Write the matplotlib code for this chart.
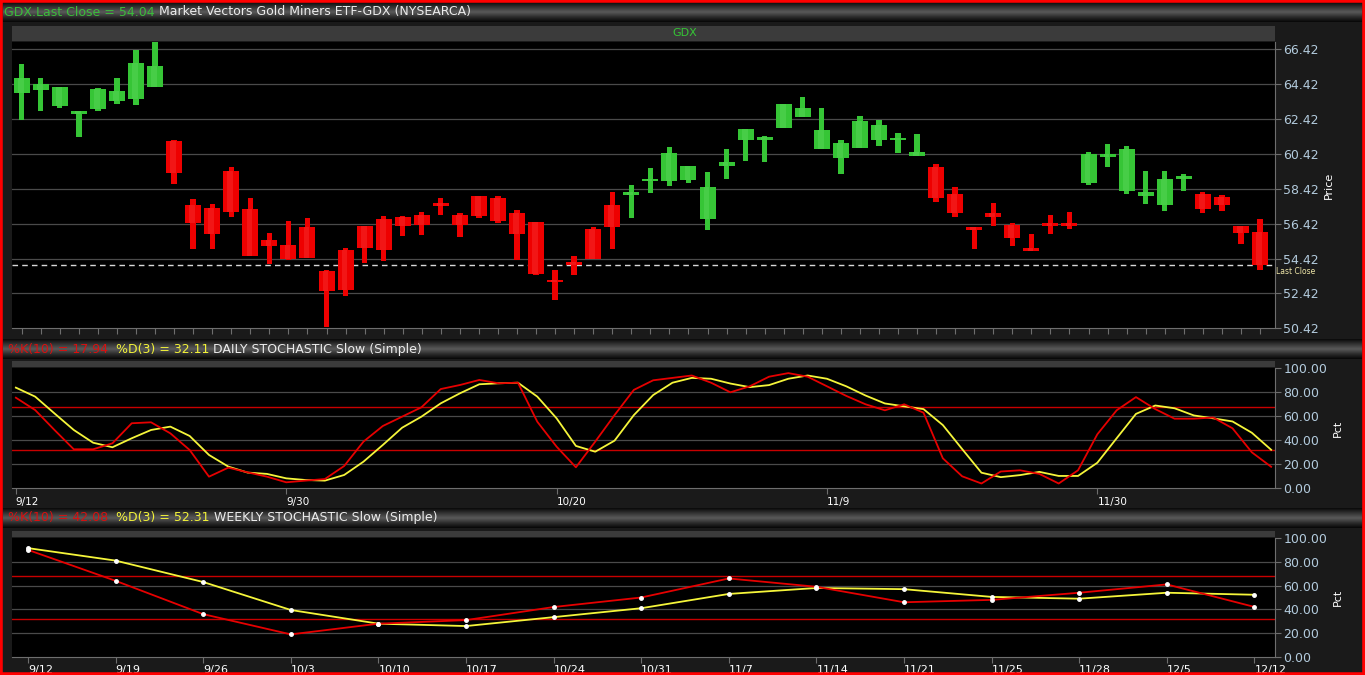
import numpy as np
import matplotlib
matplotlib.use("Agg")
import matplotlib.pyplot as plt
from matplotlib.colors import LinearSegmentedColormap
from matplotlib.patches import Rectangle
import matplotlib.transforms as mtransforms

# GDX daily candles, 9/12 - 12/12
opens = [63.94, 64.06, 63.18, 62.72, 63.01, 63.47, 63.56, 64.28, 61.14, 57.52,
         57.33, 59.47, 57.28, 55.47, 55.20, 56.23, 53.71, 54.91, 56.28, 56.67,
         56.82, 56.89, 57.62, 56.91, 58.00, 57.91, 57.05, 56.53, 53.18, 54.19,
         56.09, 57.48, 58.06, 58.85, 58.85, 58.91, 56.71, 59.75, 61.20, 61.22,
         61.91, 62.53, 60.71, 60.19, 60.76, 61.24, 61.20, 60.28, 59.67, 58.15,
         56.20, 57.05, 56.32, 55.05, 56.48, 56.48, 58.76, 60.25, 58.28, 58.00,
         57.52, 58.98, 58.15, 57.94, 56.28, 55.96]
closes = [64.76, 64.42, 64.28, 62.85, 64.13, 64.04, 65.62, 65.47, 59.33, 56.48,
          55.81, 57.08, 54.57, 55.14, 54.38, 54.48, 52.57, 52.63, 55.05, 54.91,
          56.28, 56.32, 57.43, 56.32, 56.85, 56.57, 55.85, 53.56, 53.05, 54.04,
          54.42, 56.22, 58.23, 59.00, 60.48, 59.75, 58.53, 59.94, 61.85, 61.35,
          63.29, 63.05, 61.77, 61.05, 62.32, 62.09, 61.36, 60.55, 57.91, 57.05,
          56.08, 56.80, 55.58, 54.88, 56.28, 56.28, 60.42, 60.40, 60.71, 58.23,
          58.99, 59.10, 57.28, 57.48, 55.91, 54.04]
highs = [65.58, 64.76, 64.28, 62.89, 64.19, 64.76, 66.38, 66.89, 61.24, 57.81,
         57.56, 59.68, 57.91, 55.87, 56.57, 56.72, 53.77, 55.01, 56.28, 56.85,
         56.85, 57.11, 57.87, 57.01, 58.00, 58.00, 57.18, 56.53, 53.77, 54.57,
         56.23, 58.23, 58.65, 59.62, 60.80, 59.75, 59.37, 60.72, 61.85, 61.47,
         63.29, 63.71, 63.05, 61.20, 62.57, 62.38, 61.62, 61.54, 59.86, 58.53,
         56.20, 57.62, 56.48, 55.85, 56.91, 57.11, 60.51, 61.01, 60.85, 59.47,
         59.47, 59.29, 58.25, 58.04, 56.28, 56.67]
lows = [62.38, 62.91, 63.05, 61.37, 62.89, 63.28, 63.24, 64.28, 58.67, 54.95,
        54.99, 56.82, 54.57, 54.10, 54.32, 54.48, 50.48, 52.25, 54.15, 54.28,
        55.71, 55.77, 56.91, 55.68, 56.76, 56.48, 54.32, 53.47, 52.05, 53.47,
        54.42, 54.99, 56.72, 58.19, 58.59, 58.76, 56.05, 58.99, 60.04, 59.96,
        61.91, 62.53, 60.71, 59.29, 60.76, 60.85, 60.48, 60.28, 57.66, 56.82,
        54.99, 56.28, 55.14, 54.85, 55.85, 56.09, 58.61, 59.66, 58.15, 57.56,
        57.14, 58.32, 57.01, 57.14, 55.24, 53.77]
last_close = 54.04
price_ticks = [50.42, 52.42, 54.42, 56.42, 58.42, 60.42, 62.42, 64.42, 66.42]

# daily stochastic slow
daily_k = [75.5, 65.2, 48.6, 32.5, 32.5, 37.5, 54.2, 55.0, 45.8, 31.9,
           9.7, 17.2, 13.3, 9.7, 5.0, 6.4, 7.7, 18.6, 38.9, 51.9,
           59.7, 67.5, 82.7, 86.1, 90.3, 87.5, 88.0, 55.5, 34.7, 17.5,
           38.9, 61.0, 82.0, 90.0, 92.0, 94.0, 88.0, 80.0, 85.0, 93.0,
           96.0, 93.0, 85.0, 77.0, 70.0, 65.0, 70.0, 63.0, 25.0, 10.0,
           4.0, 14.0, 15.0, 12.0, 4.0, 15.0, 45.0, 65.0, 76.0, 66.0,
           58.0, 58.0, 59.0, 50.0, 30.0, 17.94]
daily_d = [83.9, 76.4, 62.4, 48.6, 38.0, 34.2, 41.7, 48.6, 51.4, 43.6,
           27.8, 18.1, 13.1, 12.0, 8.3, 6.9, 6.4, 11.1, 22.2, 36.1,
           50.5, 59.7, 70.8, 79.2, 86.7, 87.5, 88.0, 76.4, 58.3, 35.3,
           30.5, 39.7, 61.0, 77.7, 88.0, 92.0, 91.3, 87.3, 84.3, 86.0,
           91.3, 94.0, 91.3, 85.0, 77.3, 70.7, 68.3, 66.0, 52.7, 32.7,
           13.0, 9.3, 11.0, 13.7, 10.3, 10.3, 21.3, 41.7, 62.0, 69.0,
           66.7, 60.7, 58.3, 55.7, 46.3, 32.11]
daily_labels = ["9/12", "9/30", "10/20", "11/9", "11/30"]
daily_label_idx = [0, 14, 28, 42, 56]

# weekly stochastic slow
weekly_labels = ["9/12", "9/19", "9/26", "10/3", "10/10", "10/17", "10/24", "10/31",
                 "11/7", "11/14", "11/21", "11/25", "11/28", "12/5", "12/12"]
weekly_k = [90, 64, 36, 19, 28, 31, 42, 50, 66, 59, 46, 48, 54, 61, 42.08]
weekly_d = [91.5, 81, 63, 39.5, 28, 26, 33.5, 41, 53, 58, 57, 50.5, 49, 54, 52.31]

pct_ticks = [0, 20, 40, 60, 80, 100]
band_levels = [32, 68]

W, H = 1365, 675
GREEN = "#36c536"
RED = "#ee0000"
AXIS = "#6e6e6e"
TICKTXT = "#b3cbdd"

fig = plt.figure(figsize=(W / 100, H / 100), dpi=100, facecolor="#1a1a1a")


def add_box(x0, y0, x1, y1):
    return fig.add_axes([x0 / W, 1 - y1 / H, (x1 - x0) / W, (y1 - y0) / H])


bar_cmap = LinearSegmentedColormap.from_list(
    "bar", ["#0a0a0a", "#333333", "#5a5a5a", "#2c2c2c", "#070707"])


def header_bar(y0, y1, parts, x_px=6, size=9):
    ax = add_box(3, y0, 1362, y1)
    ax.imshow(np.linspace(0, 1, 60).reshape(-1, 1), aspect="auto", cmap=bar_cmap,
              extent=[0, 1, 0, 1])
    ax.set_axis_off()
    prev = None
    for txt, col in parts:
        if prev is None:
            prev = ax.text((x_px - 3) / 1359, 0.5, txt, transform=ax.transAxes,
                           va="center", ha="left", color=col, fontsize=size)
        else:
            prev = ax.annotate(txt, xy=(1, 0), xycoords=prev, va="bottom", ha="left",
                               color=col, fontsize=size)


def gray_band(y0, y1, label=None):
    b = add_box(12, y0, 1275, y1)
    b.set_facecolor("#3b3b3b")
    b.set_xticks([])
    b.set_yticks([])
    for s in b.spines.values():
        s.set_visible(False)
    if label:
        b.text(0.533, 0.5, label, transform=b.transAxes, ha="center", va="center",
               color=GREEN, fontsize=8)


def style_panel(ax):
    ax.set_facecolor("black")
    ax.spines["top"].set_visible(False)
    ax.spines["left"].set_visible(False)
    ax.spines["right"].set_color(AXIS)
    ax.spines["bottom"].set_color(AXIS)
    ax.yaxis.tick_right()
    ax.tick_params(axis="y", colors=AXIS, labelcolor=TICKTXT, labelsize=9, length=4, pad=2)
    ax.tick_params(axis="x", colors=AXIS, labelcolor="white", length=4, pad=2)


# header bars
header_bar(2, 22, [("GDX.Last Close = 54.04", "#3cbc3c"),
                   (" Market Vectors Gold Miners ETF-GDX (NYSEARCA)", "#ececec")], x_px=4)
header_bar(339, 359, [("%K(10) = 17.94", "#d81010"), ("  %D(3) = 32.11", "#f2f23a"),
                      (" DAILY STOCHASTIC Slow (Simple)", "#ececec")], x_px=8)
header_bar(508, 528, [("%K(10) = 42.08", "#d81010"), ("  %D(3) = 52.31", "#f2f23a"),
                      (" WEEKLY STOCHASTIC Slow (Simple)", "#ececec")], x_px=8)

# price panel
gray_band(26, 41, "GDX")
ax = add_box(12, 42, 1275, 328.3)
style_panel(ax)
o = np.array(opens)
c = np.array(closes)
hi = np.array(highs)
lo = np.array(lows)
x = np.arange(len(o))
cols = [GREEN if cc >= oo else RED for oo, cc in zip(o, c)]
body = np.maximum(np.abs(c - o), 0.16)
ax.bar(x, hi - lo, bottom=lo, width=0.28, color=cols, zorder=3)
ax.bar(x, body, bottom=np.minimum(o, c), width=0.84, color=cols, zorder=4)
# light highlight to mimic the shaded bodies
hl = ["#7be87b" if cl == GREEN else "#ff5a5a" for cl in cols]
ax.bar(x - 0.05, body, bottom=np.minimum(o, c), width=0.3, color=hl, alpha=0.25, zorder=5)
for p in price_ticks[1:]:
    ax.axhline(p, color="#4a4a4a", lw=0.9, zorder=1)
ax.axhline(last_close, color="#d8d8d8", lw=1, ls=(0, (4, 3)), zorder=2)
trans = mtransforms.blended_transform_factory(ax.transAxes, ax.transData)
ax.annotate("Last Close", xy=(1.001, last_close), xycoords=trans, xytext=(0, -1),
            textcoords="offset points", color="#efe6a8", fontsize=5.5,
            va="top", ha="left")
ax.set_xlim(-0.51, 65.79)
ax.set_ylim(50.42, 66.84)
ax.set_yticks(price_ticks)
ax.set_yticklabels([f"{p:.2f}" for p in price_ticks])
ax.set_xticks(x)
ax.set_xticklabels([])
fig.text(1329 / W, 1 - 185 / H, "Price", rotation=90, color="white", fontsize=8,
         ha="center", va="center")

# daily stochastic panel
gray_band(361, 367)
ax2 = add_box(12, 368.3, 1275, 488.3)
style_panel(ax2)
xd = np.arange(len(daily_k))
for v in pct_ticks[1:-1]:
    ax2.axhline(v, color="#4a4a4a", lw=0.9, zorder=1)
for v in band_levels:
    ax2.axhline(v, color="#c80000", lw=1, zorder=2)
ax2.plot(xd, daily_d, color="#f5f53a", lw=1.3, zorder=3)
ax2.plot(xd, daily_k, color="#e60000", lw=1.3, zorder=4)
ax2.set_xlim(-0.2, 65.2)
ax2.set_ylim(0, 100)
ax2.set_yticks(pct_ticks)
ax2.set_yticklabels([f"{v:.2f}" for v in pct_ticks])
ax2.set_xticks(daily_label_idx)
ax2.set_xticklabels(daily_labels, fontsize=7.5, ha="left")
fig.text(1338 / W, 1 - 428 / H, "Pct", rotation=90, color="white", fontsize=8,
         ha="center", va="center")

# weekly stochastic panel
gray_band(531, 537)
ax3 = add_box(12, 538, 1275, 657)
style_panel(ax3)
xw = np.arange(len(weekly_k))
for v in pct_ticks[1:-1]:
    ax3.axhline(v, color="#4a4a4a", lw=0.9, zorder=1)
for v in band_levels:
    ax3.axhline(v, color="#c80000", lw=1, zorder=2)
ax3.plot(xw, weekly_d, color="#f5f53a", lw=1.3, zorder=3, marker="o", ms=2.5,
         mfc="white", mec="white")
ax3.plot(xw, weekly_k, color="#e60000", lw=1.3, zorder=4, marker="o", ms=2.5,
         mfc="white", mec="white")
ax3.set_xlim(-0.183, 14.235)
ax3.set_ylim(0, 100)
ax3.set_yticks(pct_ticks)
ax3.set_yticklabels([f"{v:.2f}" for v in pct_ticks])
ax3.set_xticks(xw)
ax3.set_xticklabels(weekly_labels, fontsize=8, ha="left",
                    family=["Liberation Sans Narrow", "DejaVu Sans"])
fig.text(1338 / W, 1 - 597 / H, "Pct", rotation=90, color="white", fontsize=8,
         ha="center", va="center")

# red frame
fig.patches.append(Rectangle((0, 0), 1, 1, transform=fig.transFigure, fill=False,
                             edgecolor="#ff0000", lw=4, zorder=10))

fig.savefig("out.png", dpi=100, facecolor=fig.get_facecolor())
